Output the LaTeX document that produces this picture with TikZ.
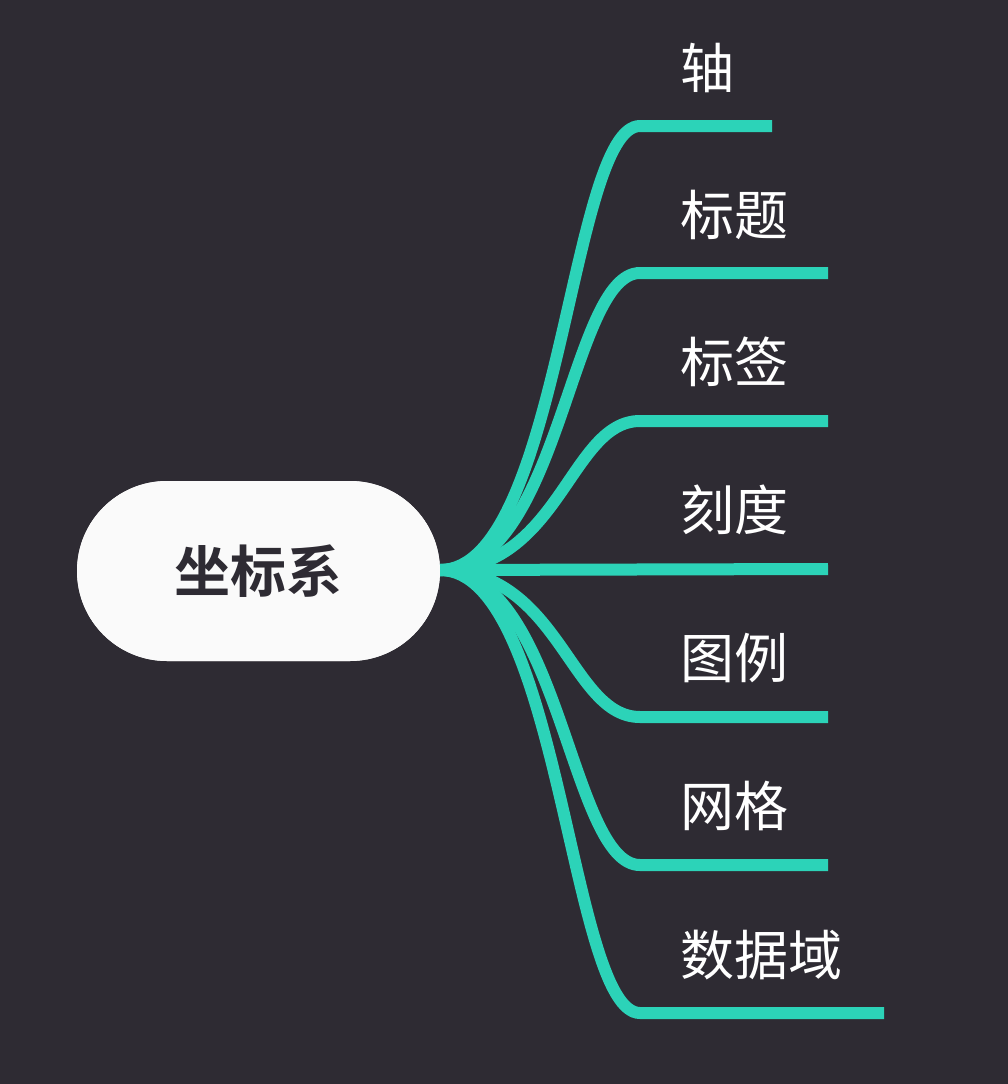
\documentclass[tikz,border=0pt]{standalone}
\usepackage{fontspec}
\setmainfont{Noto Sans CJK SC}
\newfontfamily\cjk{Noto Sans CJK SC}
\newfontfamily\cjkbold{Noto Sans CJK SC Bold}
\definecolor{bg}{HTML}{2E2B33}
\definecolor{teal}{HTML}{2CD3B8}
\definecolor{pill}{HTML}{FAFAFA}
\definecolor{dark}{HTML}{2E2B33}
\tikzset{
  branch/.style={draw=teal, line width=12pt, line cap=butt},
  lbl/.style={anchor=west, text=white, font=\cjk\fontsize{54}{60}\selectfont, inner sep=0pt},
  root/.style={fill=pill, minimum width=363pt, minimum height=180pt, rounded corners=90pt, text=dark, font=\cjkbold\fontsize{56}{62}\selectfont}
}
\begin{document}
\begin{tikzpicture}[x=1pt,y=-1pt]
\fill[bg] (0,0) rectangle (1008,1084);
\useasboundingbox (0,0) rectangle (1008,1084);
\node[root] (c) at (258.5,571) {坐标系};
\coordinate (s) at (440,570);
% endpoints
\coordinate (e1) at (772,126);
\coordinate (e2) at (828,273);
\coordinate (e3) at (828,421);
\coordinate (e4) at (828,569);
\coordinate (e5) at (828,717);
\coordinate (e6) at (828,865);
\coordinate (e7) at (884,1013);
\draw[branch] (s) .. controls (560,570) and (570,126) .. (640,126) -- (e1);
\draw[branch] (s) .. controls (560,570) and (570,273) .. (640,273) -- (e2);
\draw[branch] (s) .. controls (560,570) and (570,421) .. (640,421) -- (e3);
\draw[branch] (s) -- (e4);
\draw[branch] (s) .. controls (560,570) and (570,717) .. (640,717) -- (e5);
\draw[branch] (s) .. controls (560,570) and (570,865) .. (640,865) -- (e6);
\draw[branch] (s) .. controls (560,570) and (570,1013) .. (640,1013) -- (e7);
\node[root] at (c) {坐标系};
\node[lbl] (l1) at (680,68) {轴};
\node[lbl] (l2) at (680,215) {标题};
\node[lbl] (l3) at (680,362) {标签};
\node[lbl] (l4) at (680,510) {刻度};
\node[lbl] (l5) at (680,658) {图例};
\node[lbl] (l6) at (680,806) {网格};
\node[lbl] (l7) at (680,955) {数据域};
\end{tikzpicture}
\end{document}
